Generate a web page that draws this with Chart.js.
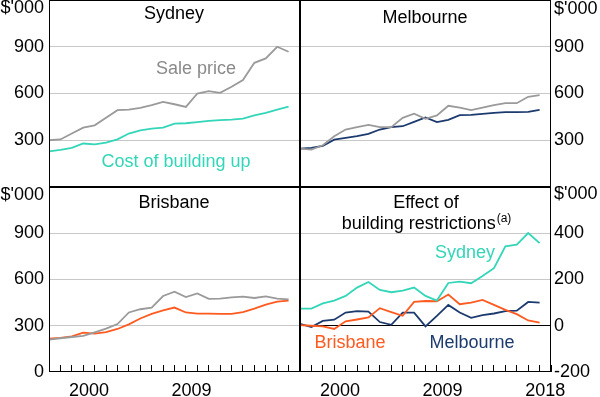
<!DOCTYPE html>
<html>
<head>
<meta charset="utf-8">
<script src="https://cdn.jsdelivr.net/npm/chart.js@4.4.1/dist/chart.umd.min.js"></script>
<style>
    html, body { margin: 0; padding: 0; background: #fff; }
    #wrap { position: relative; width: 600px; height: 397px; }
    #wrap canvas { position: absolute; left: 0; top: 0; }
</style>
</head>
<body>
<div id="wrap">
    <canvas id="c-syd" width="600" height="397"></canvas>
    <canvas id="c-mel" width="600" height="397"></canvas>
    <canvas id="c-brs" width="600" height="397"></canvas>
    <canvas id="c-eff" width="600" height="397"></canvas>
</div>
<script>
// Data ($'000), one value per year
const years = [1997, 1998, 1999, 2000, 2001, 2002, 2003, 2004, 2005, 2006, 2007,
               2008, 2009, 2010, 2011, 2012, 2013, 2014, 2015, 2016, 2017, 2018];

const sydSale = [300, 305, 343, 381, 396, 444, 493, 497, 508, 525, 546, 531, 514, 600, 615, 604, 643, 686, 797, 825, 900, 868];
const sydCost = [229, 238, 251, 279, 274, 285, 306, 343, 364, 375, 381, 407, 409, 416, 424, 429, 433, 439, 459, 476, 497, 516];
const melSale = [246, 240, 268, 326, 369, 384, 399, 384, 384, 444, 471, 437, 459, 521, 510, 493, 510, 525, 538, 538, 579, 589];
const melCost = [246, 251, 264, 304, 315, 326, 341, 369, 384, 390, 418, 446, 416, 431, 461, 463, 469, 476, 480, 480, 482, 495];
const brsSale = [210, 219, 227, 234, 257, 281, 311, 386, 407, 418, 493, 521, 486, 510, 474, 476, 484, 489, 480, 491, 476, 471];
const brsCost = [216, 221, 231, 255, 249, 259, 279, 309, 347, 377, 399, 418, 386, 379, 379, 377, 377, 388, 411, 437, 456, 463];
const effSyd = [74, 74, 97, 109, 129, 165, 189, 155, 145, 152, 165, 129, 109, 185, 191, 184, 215, 249, 343, 351, 401, 357];
const effMel = [8, -6, 21, 26, 57, 63, 61, 16, 4, 57, 57, -3, 43, 90, 57, 34, 46, 53, 63, 65, 103, 100];
const effBrs = [3, 0, -3, -14, 19, 27, 36, 76, 59, 43, 103, 107, 106, 135, 93, 100, 112, 90, 69, 50, 23, 14];

// Axis ticks
const priceTicks = [300, 600, 900];
const priceTicksWithZero = [0, 300, 600, 900];
const effectTicks = [-200, 0, 200, 400];
const yearLabels = ['2000', '2009', '2018'];
const unitLabel = "$'000";

const GREY = '#9a9a9a';
const TEAL = '#33d6b8';
const NAVY = '#1c3a6e';
const ORANGE = '#ff5a1f';

Chart.defaults.font.family = "'Liberation Sans', Arial, sans-serif";
Chart.defaults.font.size = 18;
Chart.defaults.color = '#000';

// panel box edges in page pixels
const L = 49, M = 300, R = 551, T = 0, S = 187, B = 372, W = 600, H = 397;

const framePlugin = {
    id: 'frame',
    afterDatasetsDraw(chart) {
        const { ctx, chartArea: a } = chart;
        ctx.save();
        ctx.strokeStyle = '#000';
        ctx.lineWidth = 1;
        ctx.strokeRect(Math.round(a.left) + 0.5, Math.round(a.top) + 0.5,
                       Math.round(a.right - a.left) - 1, Math.round(a.bottom - a.top) - 1);
        ctx.restore();
    }
};

const notesPlugin = {
    id: 'notes',
    afterDraw(chart) {
        const notes = chart.options.plugins.notes.items || [];
        const ctx = chart.ctx;
        ctx.save();
        ctx.textBaseline = 'alphabetic';
        notes.forEach(n => {
            ctx.font = "18px 'Liberation Sans', Arial, sans-serif";
            ctx.fillStyle = n.color || '#000';
            if (n.sup) {
                const w1 = ctx.measureText(n.text).width;
                ctx.font = "12px 'Liberation Sans', Arial, sans-serif";
                const w2 = ctx.measureText(n.sup).width;
                const x0 = n.x - (w1 + w2) / 2;
                ctx.textAlign = 'left';
                ctx.font = "18px 'Liberation Sans', Arial, sans-serif";
                ctx.fillText(n.text, x0, n.y);
                ctx.font = "12px 'Liberation Sans', Arial, sans-serif";
                ctx.fillText(n.sup, x0 + w1 + 1, n.y - 7);
            } else {
                ctx.textAlign = 'center';
                ctx.fillText(n.text, n.x, n.y);
            }
        });
        ctx.restore();
    }
};

function series(values, color) {
    return {
        data: values.map((v, i) => ({ x: years[i], y: v })),
        borderColor: color,
        borderWidth: 1.8,
        pointRadius: 0,
        tension: 0,
        fill: false
    };
}

function makePanel(id, p) {
    const isLeft = p.side === 'left';
    const isTop = p.row === 'top';
    const yTicks = p.ticks.concat([p.unitAt]);
    new Chart(document.getElementById(id), {
        type: 'line',
        data: { datasets: p.datasets },
        options: {
            responsive: false,
            animation: false,
            events: [],
            layout: {
                padding: {
                    left: isLeft ? 0 : M,
                    right: isLeft ? W - M : 0,
                    top: isTop ? T : S,
                    bottom: isTop ? H - S : 0
                }
            },
            scales: {
                x: {
                    type: 'linear',
                    min: years[0],
                    max: years[years.length - 1] + 1,
                    display: !isTop,
                    afterBuildTicks: s => { s.ticks = years.map(y => ({ value: y + 0.5 })); },
                    afterFit: s => {
                        s.height = isTop ? 0 : H - B;
                        s.paddingLeft = 0;
                        s.paddingRight = 0;
                    },
                    border: { display: false },
                    grid: { offset: true, drawOnChartArea: false, drawTicks: true, tickLength: -7, color: '#000' },
                    ticks: {
                        autoSkip: false,
                        maxRotation: 0,
                        padding: 15,
                        callback: v => {
                            const lbl = String(Math.floor(v));
                            return p.yearLabels.includes(lbl) ? lbl : '';
                        }
                    }
                },
                y: {
                    position: p.side,
                    min: p.min,
                    max: p.max,
                    afterBuildTicks: s => { s.ticks = yTicks.map(v => ({ value: v })); },
                    afterFit: s => {
                        s.width = isLeft ? L : W - R;
                        s.paddingTop = 0;
                        s.paddingBottom = 0;
                    },
                    border: { display: false },
                    grid: {
                        drawTicks: false,
                        color: c => {
                            const v = c.tick ? c.tick.value : null;
                            if (v === 0 && p.min < 0) return '#000';
                            if (v === p.unitAt || v === p.min) return 'rgba(0,0,0,0)';
                            return '#c8c8c8';
                        }
                    },
                    ticks: {
                        padding: isLeft ? 5 : 3,
                        callback: v => v === p.unitAt ? unitLabel : String(v)
                    }
                }
            },
            plugins: {
                legend: { display: false },
                tooltip: { enabled: false },
                notes: { items: p.notes }
            }
        },
        plugins: [framePlugin, notesPlugin]
    });
}

makePanel('c-syd', {
    side: 'left', row: 'top', min: 0, max: 1200, ticks: priceTicks, unitAt: 1150, yearLabels: [],
    datasets: [series(sydSale, GREY), series(sydCost, TEAL)],
    notes: [
        { text: 'Sydney', x: 174, y: 19 },
        { text: 'Sale price', x: 196, y: 74, color: '#8a8a8a' },
        { text: 'Cost of building up', x: 176, y: 167, color: TEAL }
    ]
});

makePanel('c-mel', {
    side: 'right', row: 'top', min: 0, max: 1200, ticks: priceTicks, unitAt: 1140, yearLabels: [],
    datasets: [series(melSale, GREY), series(melCost, NAVY)],
    notes: [
        { text: 'Melbourne', x: 425, y: 23 }
    ]
});

makePanel('c-brs', {
    side: 'left', row: 'bottom', min: 0, max: 1200, ticks: priceTicksWithZero, unitAt: 1150,
    yearLabels: yearLabels.slice(0, 2),
    datasets: [series(brsSale, GREY), series(brsCost, ORANGE)],
    notes: [
        { text: 'Brisbane', x: 174, y: 208 }
    ]
});

makePanel('c-eff', {
    side: 'right', row: 'bottom', min: -200, max: 600, ticks: effectTicks, unitAt: 568,
    yearLabels: yearLabels,
    datasets: [series(effSyd, TEAL), series(effBrs, ORANGE), series(effMel, NAVY)],
    notes: [
        { text: 'Effect of', x: 426, y: 208 },
        { text: 'building restrictions', sup: '(a)', x: 426, y: 229 },
        { text: 'Sydney', x: 465, y: 258, color: TEAL },
        { text: 'Brisbane', x: 350, y: 348, color: ORANGE },
        { text: 'Melbourne', x: 472, y: 348, color: NAVY }
    ]
});
</script>
</body>
</html>
